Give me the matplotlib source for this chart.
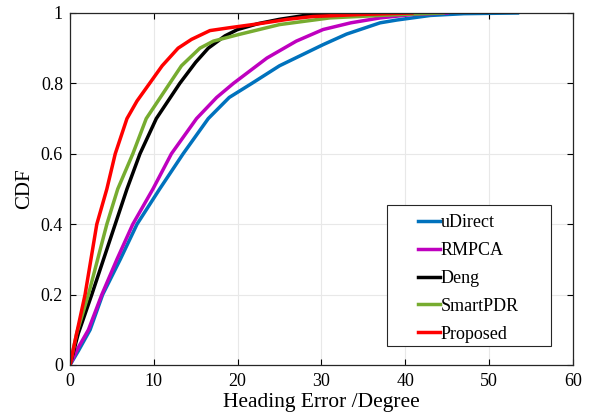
import numpy as np
import matplotlib
matplotlib.use("Agg")
import matplotlib.pyplot as plt
from matplotlib.patches import Rectangle
from matplotlib.ticker import FuncFormatter

plt.rcParams['font.family'] = ['Liberation Serif', 'DejaVu Serif']

# error (degree) vs CDF points
udirect_x = [0, 1.0, 2.4, 3.9, 6.0, 8.0, 10.7, 13.5, 16.5, 19.0, 21.7, 25.0, 30.2, 33.0, 37.0, 39.0, 43.0, 47.0, 53.4]
udirect_y = [0, 0.04, 0.10, 0.20, 0.30, 0.40, 0.50, 0.60, 0.70, 0.76, 0.80, 0.85, 0.91, 0.94, 0.972, 0.98, 0.993, 0.998, 1.0]

rmpca_x = [0, 1.0, 2.2, 3.8, 5.6, 7.5, 9.9, 12.1, 15.1, 17.5, 19.5, 23.5, 27.0, 30.2, 33.5, 37.0, 41.0, 45.0]
rmpca_y = [0, 0.05, 0.10, 0.20, 0.30, 0.40, 0.50, 0.60, 0.70, 0.76, 0.80, 0.872, 0.92, 0.953, 0.972, 0.986, 0.996, 1.0]

deng_x = [0, 1.0, 2.6, 4.0, 5.4, 6.8, 8.35, 10.3, 13.1, 15.0, 16.5, 18.5, 20.0, 22.5, 25.0, 28.0, 30.2, 31.0]
deng_y = [0, 0.09, 0.20, 0.30, 0.40, 0.50, 0.60, 0.70, 0.80, 0.86, 0.90, 0.935, 0.953, 0.97, 0.982, 0.993, 0.998, 1.0]

smartpdr_x = [0, 0.8, 2.2, 3.3, 4.4, 5.7, 7.5, 9.1, 11.9, 13.3, 15.5, 17.1, 20.0, 25.0, 31.0, 37.0, 41.0, 44.5]
smartpdr_y = [0, 0.09, 0.20, 0.30, 0.40, 0.50, 0.60, 0.70, 0.80, 0.85, 0.90, 0.92, 0.938, 0.967, 0.986, 0.993, 0.997, 1.0]

proposed_x = [0, 0.8, 1.8, 2.5, 3.2, 4.4, 5.4, 6.8, 8.0, 9.5, 11.0, 12.9, 14.5, 16.7, 19.0, 22.7, 26.0, 29.0, 35.0, 40.8]
proposed_y = [0, 0.09, 0.20, 0.30, 0.40, 0.50, 0.60, 0.70, 0.75, 0.80, 0.85, 0.90, 0.925, 0.95, 0.958, 0.97, 0.982, 0.99, 0.996, 1.0]

series = [
    ("uDirect", udirect_x, udirect_y, "#0072BD"),
    ("RMPCA", rmpca_x, rmpca_y, "#BF00BF"),
    ("Deng", deng_x, deng_y, "black"),
    ("SmartPDR", smartpdr_x, smartpdr_y, "#77AC30"),
    ("Proposed", proposed_x, proposed_y, "#FF0000"),
]

fig = plt.figure(figsize=(5.93, 4.16), dpi=100)
ax = fig.add_axes([0.118, 0.1226, 0.848, 0.8462])

for name, xs, ys, col in series:
    ax.plot(xs, ys, color=col, linewidth=2.5, label=name)

ax.set_xlim(0, 60)
ax.set_ylim(0, 1)
ax.set_xticks(np.arange(0, 61, 10))
ax.set_yticks(np.arange(0, 1.01, 0.2))
ax.yaxis.set_major_formatter(FuncFormatter(lambda v, p: "%g" % round(v, 1)))
ax.tick_params(direction="in", top=True, right=True, labelsize=13, length=4, width=0.8)
ax.tick_params(axis="x", pad=6)
ax.tick_params(axis="y", pad=5)
ax.grid(True, color="#e8e8e8", linewidth=0.8)
ax.set_axisbelow(True)
for s in ax.spines.values():
    s.set_linewidth(0.9)
    s.set_color("#262626")

ax.set_xlabel("Heading Error /Degree", fontsize=15.5, labelpad=2)
ax.set_ylabel("CDF", fontsize=15, labelpad=5)

# legend box (MATLAB style: wide side padding)
box = Rectangle((0.630, 0.054), 0.326, 0.4005, transform=ax.transAxes,
                facecolor="white", edgecolor="#262626", linewidth=0.8, zorder=4)
ax.add_patch(box)
leg = ax.legend(loc="center", bbox_to_anchor=(0.793, 0.246), fontsize=13,
                handlelength=1.2, handletextpad=0.05, labelspacing=0.6,
                borderpad=0.2, frameon=False, borderaxespad=0)
leg.set_zorder(5)
for line in leg.get_lines():
    line.set_linewidth(2.5)

fig.savefig("out.png", dpi=100)
